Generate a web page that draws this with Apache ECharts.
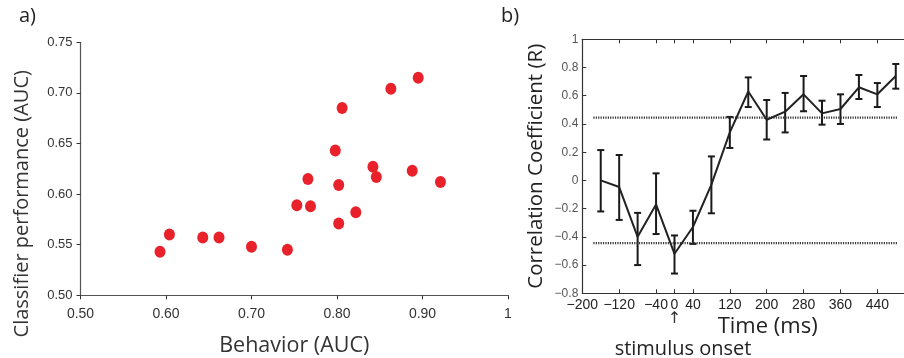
<!DOCTYPE html>
<html><head><meta charset="utf-8">
<script src="https://cdn.jsdelivr.net/npm/echarts@6/dist/echarts.min.js"></script>
<style>html,body{margin:0;padding:0;background:#fff}#c{width:904px;height:358px}</style>
</head><body><div id="c"></div>
<script>
// Panel a) scatter
const behaviorAUC = [0.593,0.604,0.643,0.662,0.700,0.742,0.753,0.769,0.766,0.798,0.802,0.802,0.806,0.822,0.842,0.846,0.863,0.888,0.895,0.921];
const classifierAUC = [0.543,0.560,0.557,0.557,0.548,0.545,0.589,0.588,0.615,0.643,0.609,0.571,0.685,0.582,0.627,0.617,0.704,0.623,0.715,0.612];
// Panel b) correlation over time
const timeMs = [-160,-120,-80,-40,0,40,80,120,160,200,240,280,320,360,400,440,480];
const corrMean = [0.00,-0.047,-0.40,-0.17,-0.52,-0.33,-0.03,0.34,0.63,0.43,0.487,0.61,0.475,0.506,0.66,0.61,0.74];
const corrLow = [-0.22,-0.28,-0.60,-0.38,-0.66,-0.45,-0.233,0.23,0.52,0.29,0.34,0.49,0.395,0.40,0.577,0.52,0.65];
const corrHigh = [0.215,0.18,-0.23,0.05,-0.39,-0.215,0.17,0.45,0.73,0.57,0.62,0.74,0.565,0.61,0.747,0.69,0.825];
const thresholdR = 0.445;
const thresholdSpan = [-176, 485];
const timeTicks = [-200,-120,-40,0,40,120,200,280,360,440];

const minus = s => String(s).replace('-', '\u2212');
const chart = echarts.init(document.getElementById('c'));
const titleFont = '"Open Sans", "Liberation Sans", sans-serif';

chart.setOption({
  animation: false,
  textStyle: {fontFamily: titleFont},
  graphic: [
    {type:'text', left: 19, top: 6, style:{text:'a)', fontSize: 20, fill:'#222', fontFamily: titleFont}},
    {type:'text', left: 501, top: 6, style:{text:'b)', fontSize: 20, fill:'#222', fontFamily: titleFont}}
  ],
  grid: [
    {left: 80.5, right: 396, top: 42.3, bottom: 62.7, outerBoundsMode:'none', containLabel:false},
    {left: 582.3, right: -1, top: 39.3, bottom: 64.7, outerBoundsMode:'none', containLabel:false}
  ],
  xAxis: [
    {gridIndex:0, type:'value', min:0.5, max:1, interval:0.1,
     name:'Behavior (AUC)', nameLocation:'middle', nameGap: 40, nameMoveOverlap:false,
     nameTextStyle:{fontSize: 21.5, color:'#333', fontFamily: titleFont},
     axisLine:{lineStyle:{color:'#555', width:1.2}},
     axisTick:{length:4, lineStyle:{color:'#333'}},
     splitLine:{show:false},
     axisLabel:{fontSize:14, color:'#333', margin:12, fontFamily:'"Liberation Sans", sans-serif',
       formatter: v => v === 1 ? '1' : v.toFixed(2)}},
    {gridIndex:1, type:'value', min:-200, max:500,
     name:'Time (ms)', nameLocation:'middle', nameGap: 22, nameMoveOverlap:false,
     nameTextStyle:{fontSize: 22, color:'#222', fontFamily: titleFont, padding:[0,0,0,48]},
     axisLine:{onZero:false, lineStyle:{color:'#333', width:1.2}},
     axisTick:{inside:true, length:4, customValues: timeTicks, lineStyle:{color:'#333'}},
     splitLine:{show:false},
     axisLabel:{fontSize:14, color:'#222', margin:5, customValues: timeTicks, fontFamily:'"Liberation Sans", sans-serif',
       formatter: v => v === 0 ? '0\n{arr|\u2191}' : minus(v),
       rich:{arr:{fontSize:16, color:'#333', lineHeight:14, fontFamily:'"DejaVu Sans", sans-serif'}}}},
    {gridIndex:1, type:'value', min:-200, max:500, position:'top',
     axisLine:{onZero:false, lineStyle:{color:'#333', width:1.2}},
     axisTick:{inside:true, length:4, customValues: timeTicks, lineStyle:{color:'#333'}},
     axisLabel:{show:false}, splitLine:{show:false}}
  ],
  yAxis: [
    {gridIndex:0, type:'value', min:0.5, max:0.75, interval:0.05,
     name:'Classifier performance (AUC)', nameLocation:'middle', nameGap: 48, nameMoveOverlap:false,
     nameTextStyle:{fontSize: 20, color:'#333', fontFamily: titleFont, padding:[0,70,0,0]},
     axisLine:{show:true, lineStyle:{color:'#555', width:1.2}},
     axisTick:{show:true, length:4, lineStyle:{color:'#333'}},
     splitLine:{show:false},
     axisLabel:{fontSize:13, color:'#333', margin:8, fontFamily:'"Liberation Sans", sans-serif',
       formatter: v => v.toFixed(2)}},
    {gridIndex:1, type:'value', min:-0.8, max:1, interval:0.2,
     name:'Correlation Coefficient (R)', nameLocation:'middle', nameGap: 36, nameMoveOverlap:false,
     nameTextStyle:{fontSize: 20.5, color:'#222', fontFamily: titleFont},
     axisLine:{show:true, onZero:false, lineStyle:{color:'#333', width:1.2}},
     axisTick:{show:true, inside:true, length:4, lineStyle:{color:'#333'}},
     splitLine:{show:false},
     axisLabel:{fontSize:12, color:'#555', margin:4, fontFamily:'"Liberation Sans", sans-serif',
       formatter: v => { const r = Math.round(v*10)/10; return r === 1 ? '1' : r === 0 ? '0' : minus(r.toFixed(1)); }}}
  ],
  series: [
    {type:'scatter', xAxisIndex:0, yAxisIndex:0, symbol:'circle', symbolSize:[11,12],
     itemStyle:{color:'#e8212b', opacity:1},
     data: behaviorAUC.map((x,i)=>[x, classifierAUC[i]])},
    {type:'line', xAxisIndex:1, yAxisIndex:1, symbol:'none', silent:true,
     lineStyle:{color:'#333', width:2.2, type:[1.2,1.2]},
     data: thresholdSpan.map(t=>[t, thresholdR])},
    {type:'line', xAxisIndex:1, yAxisIndex:1, symbol:'none', silent:true,
     lineStyle:{color:'#333', width:2.2, type:[1.2,1.2]},
     data: thresholdSpan.map(t=>[t, -thresholdR])},
    {type:'custom', xAxisIndex:1, yAxisIndex:1, silent:true,
     data: timeMs.map((t,i)=>[t, corrLow[i], corrHigh[i]]),
     renderItem: (params, api) => {
       const lo = api.coord([api.value(0), api.value(1)]);
       const hi = api.coord([api.value(0), api.value(2)]);
       const w = 3.5;
       const st = {stroke:'#1a1a1a', lineWidth:2};
       return {type:'group', children:[
         {type:'line', shape:{x1:lo[0], y1:lo[1], x2:hi[0], y2:hi[1]}, style:st},
         {type:'line', shape:{x1:lo[0]-w, y1:lo[1], x2:lo[0]+w, y2:lo[1]}, style:st},
         {type:'line', shape:{x1:hi[0]-w, y1:hi[1], x2:hi[0]+w, y2:hi[1]}, style:st}
       ]};
     }},
    {type:'line', xAxisIndex:1, yAxisIndex:1, symbol:'none',
     lineStyle:{color:'#222', width:2},
     data: timeMs.map((t,i)=>[t, corrMean[i]])}
  ]
});
</script>
<div style="position:absolute;left:0;top:0;width:904px;height:358px;pointer-events:none">
<span style="position:absolute;left:683px;top:347px;transform:translate(-50%,-50%);font:20px 'Open Sans','Liberation Sans',sans-serif;color:#222;white-space:nowrap">stimulus onset</span>
</div>
</body></html>
